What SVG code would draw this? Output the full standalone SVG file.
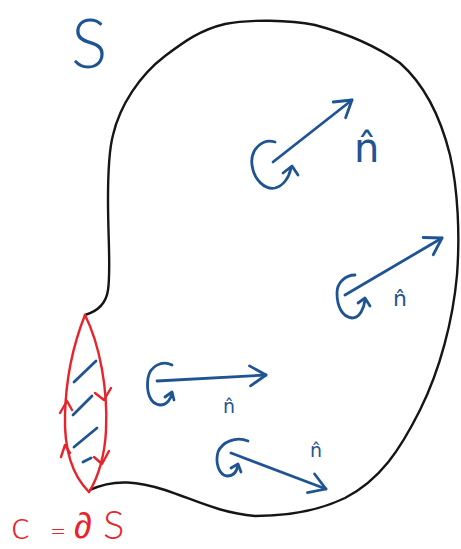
<svg xmlns="http://www.w3.org/2000/svg" width="461" height="549" viewBox="0 0 461 549">
<defs>
<style>
.ink{fill:none;stroke-linecap:round;stroke-linejoin:round}
.blk{stroke:#151515;stroke-width:2.4}
.red{stroke:#e8232b;stroke-width:2.4}
.blu{stroke:#1f5494;stroke-width:2.8}
.hat{font-family:"DejaVu Sans","Liberation Sans",sans-serif;fill:#1f5494}
.big{font-family:Lato,"Liberation Sans",sans-serif;font-weight:300}
</style>
<marker id="ah" markerUnits="userSpaceOnUse" markerWidth="40" markerHeight="40" viewBox="-20 -20 40 40" refX="0" refY="0" orient="auto">
<path d="M-16,-10 L0,0 L-16,10" fill="none" stroke="#1f5494" stroke-width="2.8" stroke-linecap="round" stroke-linejoin="round"/>
</marker>
</defs>
<rect width="461" height="549" fill="#fff"/>

<g id="label-S">
<text class="big" x="71" y="68" font-size="68" fill="#1f5494">S</text>
</g>

<g id="surface">
<path class="ink blk" d="M85,315 C95,312 106,305 108,290 C111,270 108,240 108,200 C108,170 109,150 113,135 C120,105 140,75 165,56 C185,41 200,30 225,24 C250,19 290,20 315,25 C345,33 375,45 400,63 C425,85 440,115 450,155 C458,190 460,235 457,275 C453,320 440,370 420,410 C400,450 380,480 345,498 C320,510 290,516 255,516 C220,513 195,500 165,490 C140,482 115,478 90,490"/>
</g>

<g id="boundary">
<path class="ink red" d="M85,315 C100,345 108,390 106,430 C105,455 98,478 89,492"/>
<path class="ink red" d="M85,315 C75,340 66,375 65,415 C64,450 72,475 89,492"/>
<path class="ink red" d="M95,393 L104,400 L111,388"/>
<path class="ink red" d="M94,457 L102,464 L109,451"/>
<path class="ink red" d="M60,413 L67,401 L72,410"/>
<path class="ink red" d="M61,457 L65,445 L70,453"/>
<g class="ink blu" stroke-width="2.4">
<path d="M74,382 L96,361"/>
<path d="M73,415 L92,396"/>
<path d="M74,447 L97,428"/>
<path d="M83,462 L91,458"/>
</g>
</g>

<g id="label-C">
<text class="big" y="539" font-size="40" fill="#e8232b"><tspan x="11">c</tspan><tspan x="50" y="541" font-size="28">=</tspan><tspan x="74" y="538" font-size="36" font-family="'Noto Sans',sans-serif" font-weight="300">∂</tspan><tspan x="103" y="539">S</tspan></text>
</g>

<g id="normal-1">
<path class="ink blu" d="M275,142 C262,138 250,150 252,165 C254,180 265,190 275,188 C283,186 289,178 291,168"/>
<path class="ink blu" d="M283,173 L292,166 L298,175"/>
<text class="hat" x="354" y="162" font-size="40">n̂</text>
</g>
<g id="normal-2">
<path class="ink blu" d="M355,275 C345,275 337,283 337,293 C337,306 342,317 352,318 C360,318 364,308 365,300"/>
<path class="ink blu" d="M358,303 L365,298 L370,306"/>
<text class="hat" x="393" y="306" font-size="22">n̂</text>
</g>
<g id="normal-3">
<path class="ink blu" d="M172,365 C162,360 150,366 148,378 C146,392 150,404 160,405 C167,405 171,399 172,393"/>
<path class="ink blu" d="M165,397 L172,392 L174,400"/>
<text class="hat" x="223" y="413" font-size="19">n̂</text>
</g>
<g id="normal-4">
<path class="ink blu" d="M248,441 C236,436 222,442 218,452 C215,463 219,475 227,476 C234,476 237,471 238,465"/>
<path class="ink blu" d="M231,468 L238,464 L241,472"/>
<text class="hat" x="310" y="457" font-size="19">n̂</text>
</g>

<g id="connectors">
<path class="ink blu" d="M273,162 L352,100" marker-end="url(#ah)"/>
<path class="ink blu" d="M345,295 L442,238" marker-end="url(#ah)"/>
<path class="ink blu" d="M157,381 L266,375" marker-end="url(#ah)"/>
<path class="ink blu" d="M231,453 L326,489" marker-end="url(#ah)"/>
</g>
</svg>
